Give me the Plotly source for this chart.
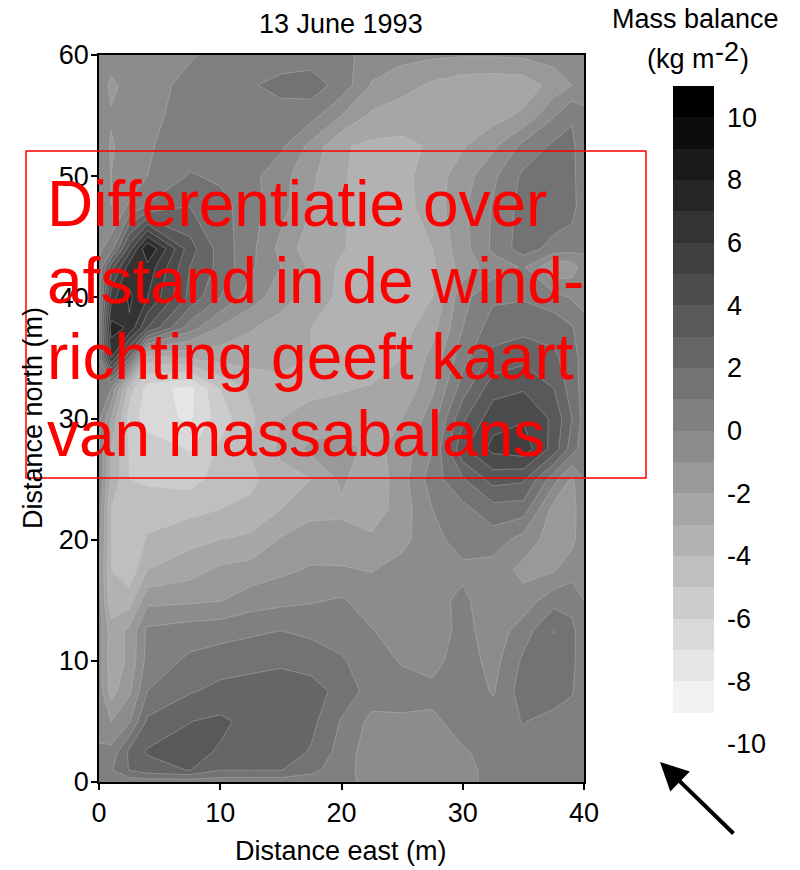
import plotly.graph_objects as go

W, H = 800, 870
FONT = "Liberation Sans"

east = [0, 1, 2.5, 4, 7.5, 10, 12.5, 15, 17.5, 20, 22.5, 25, 27.5, 30, 32.5, 35, 37.5, 39, 40]
north = [60, 57.5, 55, 52.5, 50, 47.5, 44, 42.5, 40, 37.5, 35, 32.5, 30, 27.5, 25, 22.5, 20, 17.5, 15, 12.5, 10, 7.5, 5, 2.5, 1, 0]
balance = [
    [-0.4, -0.5, -0.5, -0.4, -0.1, 0.3, 0.4, 0.5, 0.5, 0.3, -0.4, -0.7, -0.8, -0.9, -0.9, -0.8, -0.6, -0.4, -0.3],
    [-0.4, -1.2, -0.7, -0.4, 0.3, 0.6, 0.9, 1.3, 1.5, 0.6, -1.1, -1.6, -2.2, -2.6, -2.7, -2.6, -1.6, -1.0, -0.4],
    [-0.5, -0.9, -0.7, -0.2, 0.3, 0.7, 0.6, 0.6, 0.4, -1.0, -2.2, -2.6, -2.7, -2.6, -2.4, -1.8, -0.1, 0.9, 0.2],
    [-0.4, -1.1, -0.6, -0.1, 0.5, 0.6, 0.5, 0.2, -1.3, -2.9, -3.2, -3.2, -2.9, -2.1, -1.2, 0.3, 1.2, 1.2, 0.4],
    [-0.5, -1.0, -0.8, 0.0, 1.1, 0.8, 0.3, -0.6, -1.8, -2.9, -3.4, -3.3, -2.5, -1.5, -0.2, 1.2, 1.7, 1.3, 0.3],
    [-0.5, -1.0, 0.2, 1.1, 2.0, 1.4, 0.4, -0.6, -2.0, -2.9, -3.4, -3.3, -2.6, -1.2, 0.1, 1.4, 1.8, 1.4, 0.3],
    [-0.2, 0.5, 4.5, 8.0, 3.4, 1.6, 0.3, -1.3, -2.6, -2.9, -3.5, -3.4, -3.0, -1.4, 0.2, 1.5, 0.6, 0.4, 0.2],
    [0.2, 3.5, 6.5, 6.7, 3.0, 1.7, 0.2, -1.0, -2.2, -3.2, -3.6, -3.7, -3.2, -1.6, -0.5, 0.1, -2.0, -1.5, -0.5],
    [0.5, 5.5, 7.2, 6.0, 2.7, 1.0, -0.5, -1.5, -2.5, -3.2, -3.6, -3.6, -3.0, -0.3, 0.8, 0.9, 0.4, -0.1, -0.2],
    [0.8, 7.5, 6.8, 4.0, 0.5, -1.1, -1.9, -2.5, -3.0, -3.3, -3.5, -3.4, -2.4, 0.0, 1.5, 1.7, 1.6, 1.1, 0.2],
    [1.0, 6.0, 2.0, -3.5, -2.9, -2.6, -2.6, -2.8, -3.0, -3.4, -3.6, -3.0, -1.7, 0.6, 2.3, 2.7, 2.2, 1.5, 0.5],
    [0.5, 0.0, -4.5, -6.5, -7.4, -5.0, -3.8, -3.2, -3.2, -3.1, -2.9, -2.8, -1.2, 1.5, 3.6, 3.9, 3.0, 1.5, 0.6],
    [0.2, -2.0, -5.5, -6.5, -7.2, -5.5, -4.2, -3.0, -2.7, -2.5, -2.4, -2.0, -0.5, 2.8, 4.6, 4.9, 3.8, 2.0, 0.6],
    [0.0, -3.0, -5.1, -5.4, -6.1, -4.8, -3.9, -2.8, -1.7, -1.6, -2.3, -1.6, 0.0, 3.8, 5.3, 5.6, 3.6, 1.5, 0.4],
    [0.0, -3.2, -5.0, -5.2, -5.4, -4.6, -4.3, -3.3, -3.0, -1.8, -2.8, -1.4, 0.5, 1.9, 3.4, 3.2, 0.4, -1.2, 0.0],
    [-0.3, -4.0, -4.8, -4.4, -4.3, -4.0, -3.7, -3.0, -2.3, -2.2, -2.6, -1.5, 0.0, 0.7, 1.6, 1.5, -1.4, -1.4, -0.3],
    [-0.5, -4.0, -4.8, -3.9, -3.3, -3.0, -2.8, -1.9, -1.5, -1.6, -1.8, -1.3, -0.3, 0.4, 0.5, -0.4, -1.5, -1.3, -0.3],
    [-0.8, -4.0, -4.7, -3.0, -2.4, -1.8, -1.6, -1.2, -0.9, -0.9, -1.05, -0.6, -0.1, -0.2, -0.4, -1.3, -1.1, -0.4, 0.0],
    [-0.5, -3.8, -3.5, -1.3, -1.2, -1.05, -0.5, -0.3, -0.1, 0.1, -0.5, -0.6, -0.3, 0.2, -0.6, -0.6, 0.6, 0.6, 0.0],
    [-0.5, -2.5, -1.8, 0.2, 0.5, 0.6, 0.8, 1.0, 0.8, 0.6, 0.05, -0.5, -0.7, 0.4, -0.6, 0.5, 2.05, 1.3, 0.2],
    [-0.5, -2.6, -1.8, 0.4, 1.2, 1.5, 1.7, 1.8, 1.5, 1.1, 0.5, -0.1, -0.4, 0.6, -0.4, 1.2, 1.6, 1.3, 0.2],
    [-0.5, -2.4, -1.2, 1.0, 1.9, 2.3, 2.4, 2.6, 2.5, 1.6, 0.6, 0.5, 0.3, 0.7, -0.1, 1.5, 1.6, 1.1, 0.2],
    [-0.5, -1.0, -0.1, 2.2, 2.98, 3.2, 2.7, 2.7, 2.3, 0.9, -0.3, -0.2, -0.2, 0.4, 0.5, 1.05, 0.6, 0.5, 0.2],
    [0.2, 0.3, 2.2, 3.1, 3.3, 2.9, 2.8, 2.6, 1.9, 0.6, -0.6, -0.6, -0.6, -0.1, 0.3, 0.6, 0.6, 0.5, 0.2],
    [0.3, 0.9, 2.05, 2.6, 3.05, 2.05, 2.05, 2.05, 1.3, 0.4, -0.5, -0.6, -0.6, -0.2, 0.2, 0.4, 0.4, 0.4, 0.2],
    [0.1, 0.2, 0.4, 0.4, 0.4, 0.4, 0.4, 0.4, 0.4, 0.3, -0.3, -0.3, -0.3, -0.1, 0.1, 0.2, 0.2, 0.2, 0.1],
]

legend_bands = [-9.5 + i for i in range(21)]
legend_ticks = [-10, -8, -6, -4, -2, 0, 2, 4, 6, 8, 10]
legend_labels = ["-10", "-8", "-6", "-4", "-2", "0", "2", "4", "6", "8", "10"]
east_ticks = [0, 10, 20, 30, 40]
north_ticks = [0, 10, 20, 30, 40, 50, 60]
overlay_lines = ["Differentiatie over", "afstand in de wind-", "richting geeft kaart", "van massabalans"]


def px(x):
    return x / W


def py(y):
    return 1 - y / H


grays = [round(255 - i * 12.75) for i in range(21)]
scale = []
for i, g in enumerate(grays):
    c = f"rgb({g},{g},{g})"
    scale.append([i / 21, c])
    scale.append([(i + 1) / 21, c])

fig = go.Figure()
fig.add_trace(go.Contour(
    x=east, y=north, z=balance, colorscale=scale, zmin=-10, zmax=11, zauto=False,
    autocontour=False, contours=dict(start=-10, end=11, size=1, coloring="fill"),
    line=dict(color="rgba(200,200,200,0.6)", width=0.6, smoothing=0),
    showscale=False, hoverinfo="skip",
))
fig.add_trace(go.Heatmap(
    x=[0], y=legend_bands, z=[[v] for v in legend_bands], colorscale=scale,
    zmin=-10, zmax=11, showscale=False, xaxis="x2", yaxis="y2", hoverinfo="skip",
))

axis_font = dict(family=FONT, size=27, color="black")
fig.update_layout(
    width=W, height=H, margin=dict(l=0, r=0, t=0, b=0, autoexpand=False),
    paper_bgcolor="white", plot_bgcolor="white", showlegend=False,
    font=dict(family=FONT, size=27, color="black"),
    xaxis=dict(domain=[px(99), px(584)], range=[0, 40], tickvals=east_ticks, ticks="outside",
               ticklen=6, tickwidth=1.5, tickcolor="black", showline=True, linecolor="black",
               linewidth=1.5, mirror=True, showgrid=False, zeroline=False, tickfont=axis_font),
    yaxis=dict(domain=[py(782), py(55)], range=[0, 60], tickvals=north_ticks, ticks="outside",
               ticklen=6, tickwidth=1.5, tickcolor="black", showline=True, linecolor="black",
               linewidth=1.5, mirror=True, showgrid=False, zeroline=False, ticklabelstandoff=-3,
               tickfont=axis_font),
    xaxis2=dict(domain=[px(673), px(714)], range=[-0.5, 0.5], visible=False, anchor="y2"),
    yaxis2=dict(domain=[py(744), py(86)], range=[-10, 11], anchor="x2", side="right",
                tickvals=legend_ticks, ticktext=legend_labels, ticks="", showline=False,
                showgrid=False, zeroline=False, ticklabelstandoff=12, tickfont=axis_font),
)


def note(text, x, y, size=27, color="black", xanchor="center", yanchor="middle", angle=0):
    fig.add_annotation(text=text, x=px(x), y=py(y), xref="paper", yref="paper", showarrow=False,
                       xanchor=xanchor, yanchor=yanchor, textangle=angle,
                       font=dict(family=FONT, size=size, color=color))


note("13 June 1993", 341, 24)
note("Distance east (m)", 341, 851)
note("Distance north (m)", 33, 418, angle=-90)
note("Mass balance", 695, 19)
note("(kg m", 645, 59, xanchor="left")
note("-2", 713, 52, xanchor="left")
note(")", 738, 59, xanchor="left")

fig.add_annotation(x=px(660), y=py(762), xref="paper", yref="paper", ax=75, ay=73, text="",
                   showarrow=True, arrowhead=2, arrowsize=1.4, arrowwidth=4, arrowcolor="black",
                   standoff=0)

fig.add_shape(type="rect", xref="paper", yref="paper", x0=px(26), x1=px(646), y0=py(478), y1=py(151),
              line=dict(color="red", width=1.5), layer="above")
for line, y in zip(overlay_lines, [204, 281, 357, 434]):
    note(line, 45, y, size=64, color="red", xanchor="left")

fig.write_html("out.html", config=dict(displayModeBar=False),
               post_script="document.body.style.margin='0';")
